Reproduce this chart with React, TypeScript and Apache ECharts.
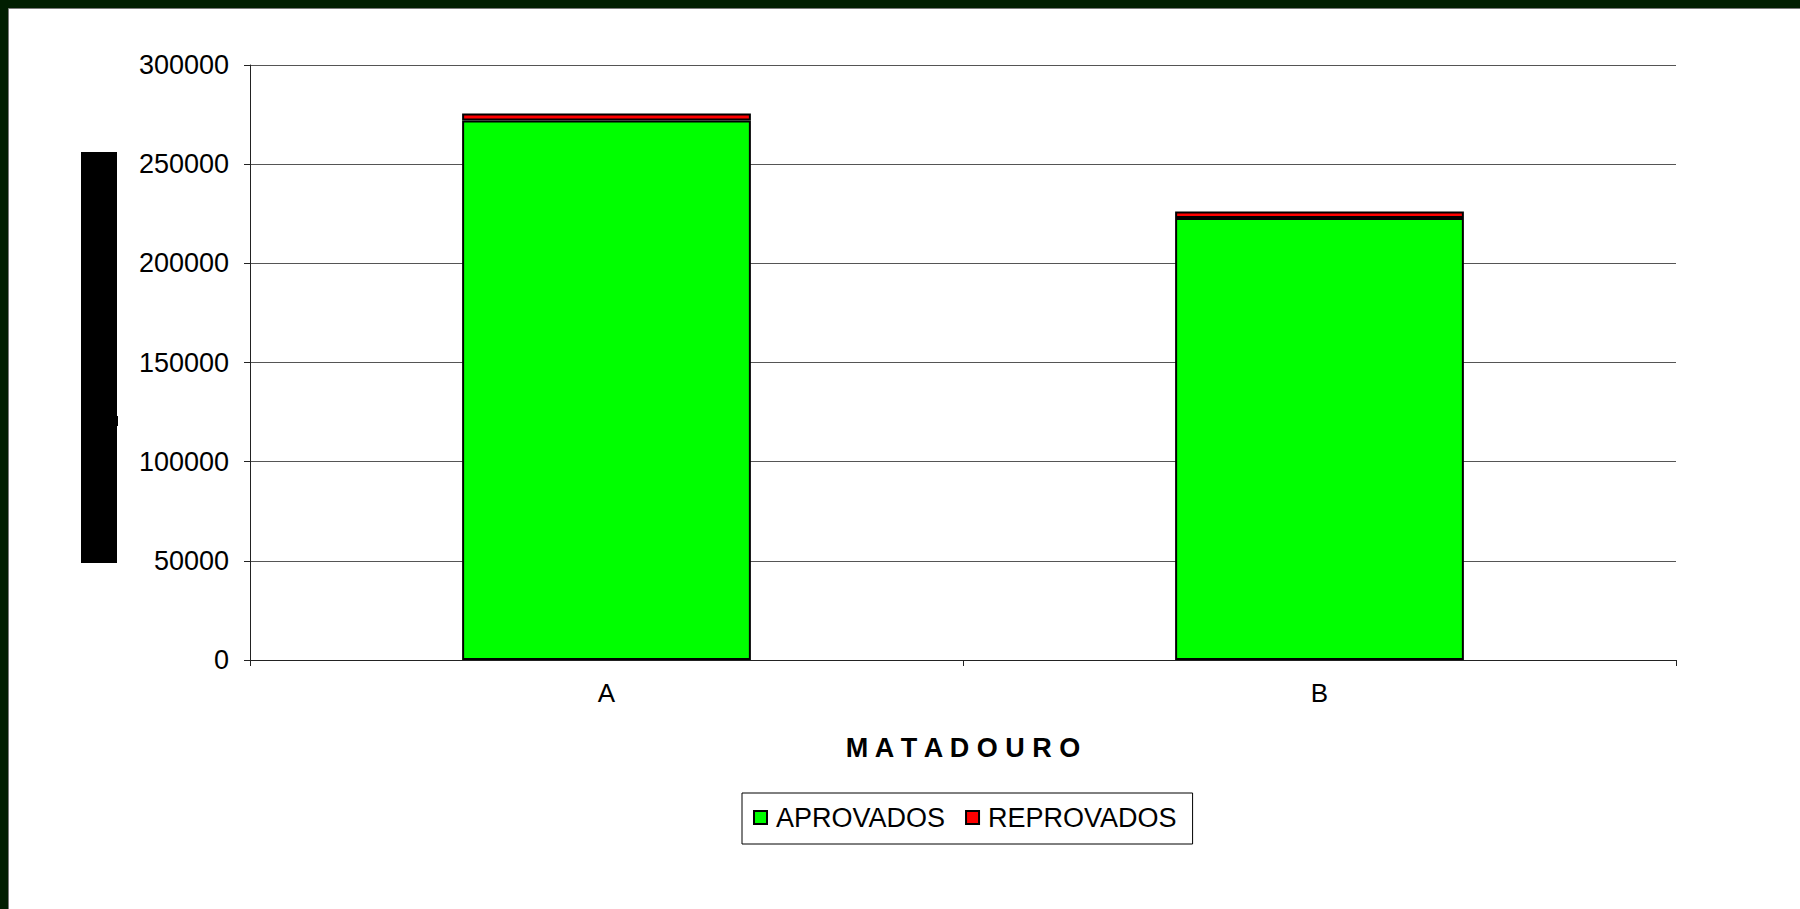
import React, { useEffect, useRef } from "react";
import * as echarts from "echarts";

const categories = ["A", "B"];
const aprovados = [272000, 222800];
const reprovados = [3500, 3300];
const seriesNames = ["APROVADOS", "REPROVADOS"];
const axisTitle = "M A T A D O U R O";

const FONT = "'Liberation Sans', Arial, sans-serif";

export default function App() {
  const ref = useRef<HTMLDivElement>(null);
  useEffect(() => {
    if (!ref.current) return;
    const chart = echarts.init(ref.current, null, { renderer: "svg" });
    chart.setOption({
      animation: false,
      backgroundColor: "#011e01",
      graphic: [
        {
          type: "rect",
          shape: { x: 8.5, y: 8.5, width: 1800, height: 910 },
          style: { fill: "#ffffff", stroke: "#7a7a7a", lineWidth: 1 },
          z: -10,
        },
        {
          type: "rect",
          shape: { x: 81, y: 152, width: 36, height: 411 },
          style: { fill: "#000000" },
        },
        {
          type: "rect",
          shape: { x: 115, y: 416, width: 3, height: 10 },
          style: { fill: "#000000" },
        },
      ],
      grid: { left: 250, right: 124, top: 65, bottom: 249, containLabel: false },
      legend: {
        data: seriesNames,
        left: 742,
        top: 793,
        orient: "horizontal",
        icon: "rect",
        itemWidth: 13,
        itemHeight: 13,
        itemGap: 20,
        padding: [11, 16, 13, 11],
        borderColor: "#000000",
        borderWidth: 1,
        backgroundColor: "#ffffff",
        textStyle: { fontFamily: FONT, fontSize: 27, color: "#000", padding: [0, 0, 0, 4] },
        itemStyle: { borderColor: "#000", borderWidth: 2 },
      },
      xAxis: {
        type: "category",
        data: categories,
        name: axisTitle,
        nameLocation: "middle",
        nameGap: 74,
        nameTextStyle: { fontFamily: FONT, fontSize: 27, fontWeight: "bold", color: "#000" },
        axisLine: { lineStyle: { color: "#222", width: 1 } },
        axisTick: { show: true, length: 6, lineStyle: { color: "#222" } },
        axisLabel: { fontFamily: FONT, fontSize: 26, color: "#000", margin: 20 },
        splitLine: { show: false },
      },
      yAxis: {
        type: "value",
        min: 0,
        max: 300000,
        interval: 50000,
        axisLine: { show: true, lineStyle: { color: "#222", width: 1 } },
        axisTick: { show: true, length: 6, lineStyle: { color: "#222" } },
        axisLabel: {
          fontFamily: FONT,
          fontSize: 27,
          color: "#000",
          margin: 21,
          formatter: (v: number) => String(v),
        },
        splitLine: { show: true, lineStyle: { color: "#555", width: 1 } },
      },
      series: [
        {
          name: seriesNames[0],
          type: "bar",
          stack: "total",
          data: aprovados,
          barWidth: "40.5%",
          itemStyle: { color: "#00ff00", borderColor: "#000", borderWidth: 2 },
        },
        {
          name: seriesNames[1],
          type: "bar",
          stack: "total",
          data: reprovados,
          barWidth: "40.5%",
          itemStyle: { color: "#ff0000", borderColor: "#000", borderWidth: 2 },
        },
      ],
    });
    return () => chart.dispose();
  }, []);
  return (
    <div
      ref={ref}
      style={{ position: "fixed", left: 0, top: 0, width: 1800, height: 909 }}
    />
  );
}
